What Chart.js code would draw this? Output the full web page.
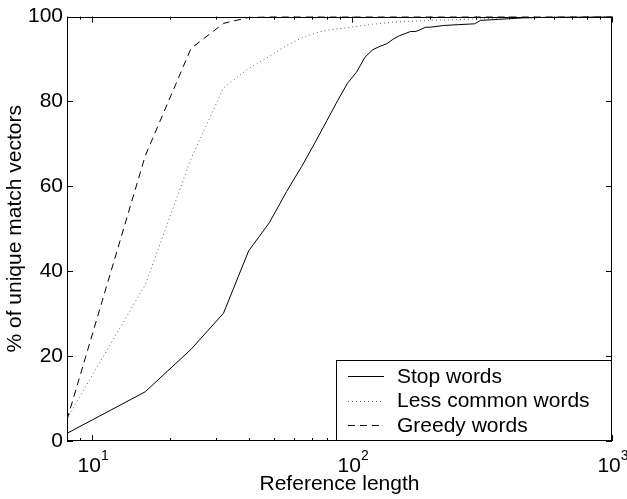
<!DOCTYPE html>
<html>
<head>
<meta charset="utf-8">
<script src="https://cdn.jsdelivr.net/npm/chart.js@4"></script>
<style>
  html, body { margin: 0; padding: 0; background: #fff; }
  #wrap { width: 627px; height: 499px; position: relative; }
</style>
</head>
<body>
<div id="wrap"><canvas id="c"></canvas></div>
<script>
// ---- Data ----
const seriesLabels = ['Stop words', 'Less common words', 'Greedy words'];

const stopX = [8,16,24,32,40,48,56,64,72,80,88,96,104,112,120,128,136,144,152,160,168,176,184,192,200,224,256,296,312,400,456,640,1000];
const stopY = [1.8,11.6,21.6,30.1,44.8,51.4,58.8,64.7,70.3,75.5,80.2,84.3,86.9,90.4,92.2,93.0,93.6,94.7,95.5,96.0,96.5,96.5,97.0,97.5,97.5,97.9,98.1,98.3,99.1,99.5,99.7,99.9,100];

const lessX = [8,16,24,32,40,48,56,64,72,80,96,120,144,200,256,320,400,1000];
const lessY = [5.3,36.8,66.5,83.2,87.8,90.6,93.2,95.0,96.1,96.8,97.4,98.2,98.7,99.1,99.3,99.5,99.8,100];

const greedyX = [8,16,24,32,40,48,1000];
const greedyY = [5.0,67.2,92.5,98.4,99.8,100,100];

const xMin = 8, xMax = 1000;
const yMin = 0, yMax = 100, yStep = 20;
const xMajorTicks = [10, 100, 1000];
const xTickBase = ['10', '10', '10'];
const xTickExp = ['1', '2', '3'];
const xTitle = 'Reference length';
const yTitle = '% of unique match vectors';

const FONT = '"Liberation Sans", Arial, Helvetica, sans-serif';

function pts(xs, ys) { return xs.map((x, i) => ({ x: x, y: ys[i] })); }

const framePlugin = {
  id: 'frame',
  afterDraw(chart) {
    const ctx = chart.ctx;
    const a = chart.chartArea;
    const xs = chart.scales.x, ys = chart.scales.y;
    ctx.save();
    ctx.strokeStyle = '#000';
    ctx.lineWidth = 1;
    // frame
    ctx.strokeRect(Math.round(a.left) + 0.5, Math.round(a.top) + 0.5,
                   Math.round(a.right - a.left) - 1, Math.round(a.bottom - a.top) - 1);
    // x ticks (log major/minor), inward, bottom and top
    ctx.beginPath();
    for (let d = 0; d <= 3; d++) {
      for (let m = 1; m <= 9; m++) {
        const v = m * Math.pow(10, d);
        if (v < xMin || v > xMax) continue;
        const px = Math.round(xs.getPixelForValue(v)) + 0.5;
        const len = (m === 1) ? 6 : 3;
        ctx.moveTo(px, a.bottom); ctx.lineTo(px, a.bottom - len);
        ctx.moveTo(px, a.top); ctx.lineTo(px, a.top + len);
      }
    }
    // y ticks inward, left and right
    for (let v = yMin; v <= yMax; v += yStep) {
      const py = Math.round(ys.getPixelForValue(v)) + 0.5;
      ctx.moveTo(a.left, py); ctx.lineTo(a.left + 6, py);
      ctx.moveTo(a.right, py); ctx.lineTo(a.right - 6, py);
    }
    ctx.stroke();

    // x tick labels with superscript exponents
    ctx.fillStyle = '#000';
    ctx.textBaseline = 'alphabetic';
    xMajorTicks.forEach((v, i) => {
      const px = xs.getPixelForValue(v);
      ctx.font = '21px ' + FONT;
      const wb = ctx.measureText(xTickBase[i]).width;
      ctx.font = '14px ' + FONT;
      const we = ctx.measureText(xTickExp[i]).width;
      const start = px - (wb + we) / 2 + 1;
      ctx.font = '21px ' + FONT;
      ctx.textAlign = 'left';
      ctx.fillText(xTickBase[i], start, a.bottom + 31);
      ctx.font = '14px ' + FONT;
      ctx.fillText(xTickExp[i], start + wb, a.bottom + 19);
    });

    // legend box
    const lx = 336, ly = 360, lw = a.right - 336, lh = a.bottom - 360;
    ctx.fillStyle = '#fff';
    ctx.fillRect(lx, ly, lw, lh);
    ctx.strokeStyle = '#000';
    ctx.lineWidth = 1;
    ctx.strokeRect(lx + 0.5, ly + 0.5, lw - 1, lh - 1);
    const rowY = [376, 400.5, 425];
    chart.data.datasets.forEach((ds, i) => {
      const y = Math.round(rowY[i]) + 0.5;
      ctx.save();
      ctx.strokeStyle = ds.borderColor;
      ctx.lineWidth = ds.borderWidth;
      ctx.setLineDash(ds.borderDash || []);
      ctx.beginPath();
      ctx.moveTo(348, y); ctx.lineTo(384, y);
      ctx.stroke();
      ctx.restore();
      ctx.fillStyle = '#000';
      ctx.font = '21px ' + FONT;
      ctx.textAlign = 'left';
      ctx.textBaseline = 'middle';
      ctx.fillText(ds.label, 397, rowY[i] + 1);
    });
    ctx.restore();
  }
};

new Chart(document.getElementById('c'), {
  type: 'line',
  data: {
    datasets: [
      { label: seriesLabels[0], data: pts(stopX, stopY), borderColor: '#000', borderWidth: 1, borderDash: [] },
      { label: seriesLabels[1], data: pts(lessX, lessY), borderColor: '#666', borderWidth: 1, borderDash: [1, 3] },
      { label: seriesLabels[2], data: pts(greedyX, greedyY), borderColor: '#000', borderWidth: 1, borderDash: [7, 5] }
    ]
  },
  options: {
    responsive: true,
    maintainAspectRatio: false,
    animation: false,
    events: [],
    layout: { padding: { top: 11, right: 15, left: 0, bottom: 0 } },
    elements: { point: { radius: 0 }, line: { tension: 0, fill: false } },
    plugins: { legend: { display: false }, tooltip: { enabled: false } },
    scales: {
      x: {
        type: 'logarithmic',
        min: xMin, max: xMax,
        grid: { display: false, drawTicks: false },
        border: { display: false },
        ticks: { display: false },
        title: { display: true, text: xTitle, color: '#000', font: { family: FONT, size: 21 }, padding: { top: 0, bottom: 2 } },
        afterFit(s) { s.height = 58; }
      },
      y: {
        min: yMin, max: yMax,
        grid: { display: false, drawTicks: false },
        border: { display: false },
        ticks: { stepSize: yStep, color: '#000', padding: 4, font: { family: FONT, size: 21 } },
        title: { display: true, text: yTitle, color: '#000', font: { family: FONT, size: 21 }, padding: { top: 3, bottom: 0 } },
        afterFit(s) { s.width = 67; }
      }
    }
  },
  plugins: [framePlugin]
});
</script>
</body>
</html>
